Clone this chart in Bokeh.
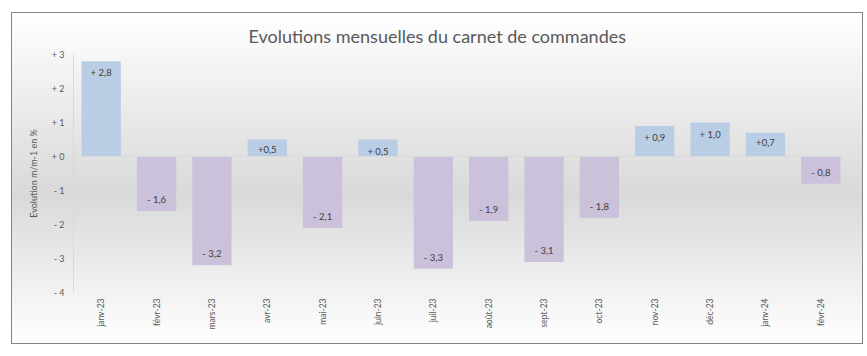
from math import pi
from bokeh.plotting import figure
from bokeh.models import ColumnDataSource, FactorRange, Range1d, FixedTicker, Span
from bokeh.embed import file_html
from bokeh.resources import INLINE

# ---- data ----
months = ["janv-23", "févr-23", "mars-23", "avr-23", "mai-23", "juin-23", "juil-23",
          "août-23", "sept-23", "oct-23", "nov-23", "déc-23", "janv-24", "févr-24"]
values = [2.8, -1.6, -3.2, 0.5, -2.1, 0.5, -3.3, -1.9, -3.1, -1.8, 0.9, 1.0, 0.7, -0.8]
value_labels = ["+ 2,8", "- 1,6", "- 3,2", "+0,5", "- 2,1", "+ 0,5", "- 3,3",
                "- 1,9", "- 3,1", "- 1,8", "+ 0,9", "+ 1,0", "+0,7", "- 0,8"]
y_ticks = [3, 2, 1, 0, -1, -2, -3, -4]
y_tick_labels = ["+ 3", "+ 2", "+ 1", "+ 0", "- 1", "- 2", "- 3", "- 4"]
title = "Evolutions mensuelles du carnet de commandes"
y_title = "Evolution m/m-1 en %"

POS = "#b9cde5"
NEG = "#ccc1da"
FONT = "Lato"

colors = [POS if v >= 0 else NEG for v in values]
src = ColumnDataSource(dict(m=months, v=values, c=colors, lab=value_labels))
pos_src = ColumnDataSource(dict(m=[m for m, v in zip(months, values) if v >= 0],
                                v=[v for v in values if v >= 0],
                                lab=[l for l, v in zip(value_labels, values) if v >= 0]))
neg_src = ColumnDataSource(dict(m=[m for m, v in zip(months, values) if v < 0],
                                v=[v for v in values if v < 0],
                                lab=[l for l, v in zip(value_labels, values) if v < 0]))

p = figure(width=850, height=330, x_range=FactorRange(*months), y_range=Range1d(-4, 3),
           output_backend="svg", toolbar_location=None, title=title,
           min_border_left=61, min_border_right=14, min_border_top=41, min_border_bottom=51)
p.margin = (13, 5, 13, 12)
p.styles = {"background": "linear-gradient(to bottom, #ffffff 0%, #d9d9d9 55%, #ffffff 100%)",
            "outline": "1px solid #858585"}
p.background_fill_color = None
p.border_fill_color = None
p.outline_line_color = None

p.title.align = "left"
p.title.offset = 175
p.title.text_font = FONT
p.title.text_font_size = "18px"
p.title.text_font_style = "normal"
p.title.text_color = "#595959"
p.title.standoff = 16

p.vbar(x="m", top="v", bottom=0, width=0.71, fill_color="c", line_color=None, source=src)
p.add_layout(Span(location=0, dimension="width", line_color="#d9d9d9", line_width=1))

p.text(x="m", y="v", text="lab", source=pos_src, text_align="center", text_baseline="top",
       y_offset=6, text_font_size="9.5px", text_color="#404040", text_font={"value": FONT})
p.text(x="m", y="v", text="lab", source=neg_src, text_align="center", text_baseline="bottom",
       y_offset=-6, text_font_size="9.5px", text_color="#404040", text_font={"value": FONT})

p.xgrid.visible = False
p.ygrid.visible = False

ya = p.yaxis[0]
ya.ticker = FixedTicker(ticks=y_ticks)
ya.major_label_overrides = {t: l for t, l in zip(y_ticks, y_tick_labels)}
ya.axis_line_color = "#d9d9d9"
ya.major_tick_line_color = None
ya.minor_tick_line_color = None
ya.major_tick_out = 0
ya.minor_tick_out = 0
ya.major_label_text_font = FONT
ya.major_label_text_font_size = "9px"
ya.major_label_text_color = "#595959"
ya.major_label_standoff = 9
ya.axis_label = y_title
ya.axis_label_text_font = FONT
ya.axis_label_text_font_size = "9px"
ya.axis_label_text_font_style = "normal"
ya.axis_label_text_color = "#595959"
ya.axis_label_standoff = 10

xa = p.xaxis[0]
xa.axis_line_color = None
xa.major_tick_line_color = None
xa.minor_tick_line_color = None
xa.major_tick_out = 0
xa.minor_tick_out = 0
xa.major_label_orientation = pi / 2
xa.major_label_text_font = FONT
xa.major_label_text_font_size = "8.5px"
xa.major_label_text_color = "#595959"
xa.major_label_standoff = 6

open("out.html", "w").write(file_html(p, INLINE))
